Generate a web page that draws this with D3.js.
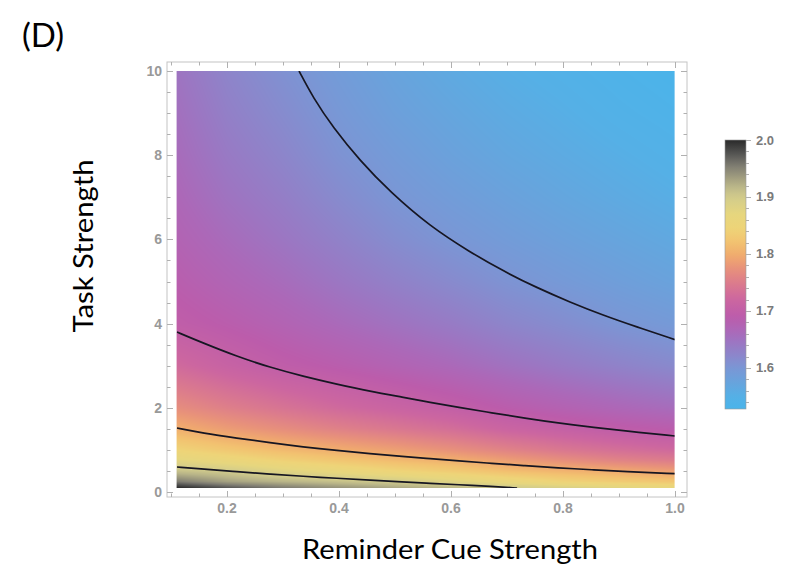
<!DOCTYPE html>
<html>
<head>
<meta charset="utf-8">
<script src="https://cdn.jsdelivr.net/npm/d3@7"></script>
<style>
  html, body { margin: 0; padding: 0; background: #ffffff; }
  svg { display: block; }
</style>
</head>
<body>
<svg id="chart" width="799" height="574"></svg>
<script>
// ---------------- data ----------------
const xCols = [0.11, 0.2, 0.3, 0.4, 0.5, 0.6, 0.7, 0.8, 0.9, 1.0];           // Reminder Cue Strength
const yRows = [0.1, 0.25, 0.5, 0.75, 1, 1.5, 2, 3, 4, 5, 6, 7, 8, 9, 10];    // Task Strength
// estimated plotted value, one row per yRows entry, one column per xCols entry
const valueGrid = [
  [2.000, 1.975, 1.955, 1.940, 1.928, 1.918, 1.905, 1.890, 1.877, 1.865],
  [1.955, 1.932, 1.919, 1.909, 1.900, 1.880, 1.860, 1.842, 1.832, 1.824],
  [1.909, 1.900, 1.879, 1.862, 1.845, 1.832, 1.816, 1.806, 1.797, 1.786],
  [1.875, 1.858, 1.840, 1.826, 1.813, 1.803, 1.787, 1.772, 1.759, 1.750],
  [1.844, 1.828, 1.812, 1.800, 1.788, 1.774, 1.758, 1.744, 1.733, 1.724],
  [1.802, 1.785, 1.770, 1.756, 1.744, 1.732, 1.716, 1.705, 1.695, 1.687],
  [1.770, 1.754, 1.739, 1.725, 1.714, 1.702, 1.688, 1.677, 1.667, 1.658],
  [1.726, 1.710, 1.696, 1.686, 1.675, 1.664, 1.651, 1.639, 1.628, 1.618],
  [1.697, 1.687, 1.675, 1.662, 1.650, 1.638, 1.624, 1.613, 1.601, 1.593],
  [1.685, 1.672, 1.659, 1.644, 1.630, 1.617, 1.604, 1.594, 1.585, 1.577],
  [1.675, 1.660, 1.645, 1.629, 1.613, 1.600, 1.590, 1.581, 1.573, 1.565],
  [1.667, 1.649, 1.634, 1.616, 1.600, 1.589, 1.579, 1.570, 1.562, 1.554],
  [1.660, 1.640, 1.624, 1.605, 1.591, 1.579, 1.569, 1.561, 1.553, 1.545],
  [1.654, 1.632, 1.615, 1.597, 1.582, 1.571, 1.561, 1.553, 1.544, 1.537],
  [1.648, 1.625, 1.607, 1.590, 1.575, 1.563, 1.553, 1.545, 1.537, 1.530]
];
// contour lines: [x, y]
const contour16 = [[0.3286,10.0],[0.3536,9.37],[0.3893,8.66],[0.4375,7.87],[0.4911,7.13],[0.5625,6.31],[0.6339,5.70],[0.6929,5.25],[0.7536,4.85],[0.8125,4.51],[0.8714,4.20],[0.9321,3.92],[1.0,3.62]];
const contour17 = [[0.1107,3.80],[0.157,3.54],[0.2179,3.22],[0.2768,2.96],[0.3357,2.75],[0.3964,2.56],[0.4554,2.39],[0.5143,2.25],[0.5625,2.13],[0.6125,2.01],[0.6732,1.88],[0.7321,1.755],[0.7911,1.64],[0.8518,1.54],[0.9107,1.45],[1.0,1.33]];
const contour18 = [[0.1107,1.52],[0.157,1.40],[0.2179,1.28],[0.2768,1.17],[0.3357,1.07],[0.3964,0.985],[0.4554,0.91],[0.5143,0.846],[0.5625,0.79],[0.6125,0.74],[0.6732,0.68],[0.7321,0.625],[0.7911,0.575],[0.8518,0.527],[0.9107,0.487],[1.0,0.435]];
const contour19 = [[0.1107,0.594],[0.157,0.544],[0.2179,0.482],[0.2768,0.425],[0.3357,0.373],[0.3964,0.325],[0.4554,0.283],[0.5143,0.24],[0.5625,0.207],[0.6125,0.173],[0.6732,0.133],[0.718,0.095]];
const contours = [contour16, contour17, contour18, contour19];

const xTickLabels = [0.2, 0.4, 0.6, 0.8, 1.0];
const yTickLabels = [0, 2, 4, 6, 8, 10];
const legendTicks = [1.6, 1.7, 1.8, 1.9, 2.0];
const legendRange = [1.528, 2.0];
// colour map (value -> colour)
const cmapValues = [1.528, 1.55, 1.57, 1.597, 1.62, 1.645, 1.665, 1.69, 1.72, 1.75, 1.775, 1.797, 1.82, 1.845, 1.87, 1.9, 1.92, 1.955, 1.975, 2.0];
const cmapColors = ["#4ab4ea","#55b0e6","#64a6de","#7898d6","#8a88cc","#9c76c2","#ac68b8","#bc5cab","#cc66a0","#dc7c8c","#e8927a","#f0aa6e","#f2c270","#eed478","#e6d67e","#d2cc8c","#b8b488","#7e7c72","#565654","#2a2a2a"];
const plotXRange = [0.11, 1.0];
const plotYRange = [0.1, 10];

// ---------------- drawing ----------------
const svg = d3.select("#chart");
svg.append("rect").attr("width", 799).attr("height", 574).attr("fill", "#fff");

const x = d3.scaleLinear().domain([0.2, 1.0]).range([227, 675]);
const y = d3.scaleLinear().domain([0, 10]).range([492, 71]);
const color = d3.scaleLinear().domain(cmapValues).range(cmapColors).interpolate(d3.interpolateRgb).clamp(true);

const ix0 = x(plotXRange[0]), ix1 = x(plotXRange[1]);
const iy0 = y(plotYRange[1]), iy1 = y(plotYRange[0]);
const W = Math.round(ix1 - ix0), H = Math.round(iy1 - iy0);

// density image
const colIdx = d3.scaleLinear().domain(xCols).range(d3.range(xCols.length)).clamp(true);
const rowIdx = d3.scaleLinear().domain(yRows).range(d3.range(yRows.length)).clamp(true);
function valueAt(xv, yv) {
  const ci = colIdx(xv), ri = rowIdx(yv);
  const c0 = Math.min(Math.floor(ci), xCols.length - 2), r0 = Math.min(Math.floor(ri), yRows.length - 2);
  const fc = ci - c0, fr = ri - r0;
  const a = valueGrid[r0][c0], b = valueGrid[r0][c0 + 1];
  const c = valueGrid[r0 + 1][c0], d = valueGrid[r0 + 1][c0 + 1];
  return (a * (1 - fc) + b * fc) * (1 - fr) + (c * (1 - fc) + d * fc) * fr;
}
const canvas = document.createElement("canvas");
canvas.width = W; canvas.height = H;
const ctx = canvas.getContext("2d");
const img = ctx.createImageData(W, H);
for (let j = 0; j < H; j++) {
  const yv = y.invert(iy0 + j + 0.5);
  for (let i = 0; i < W; i++) {
    const xv = x.invert(ix0 + i + 0.5);
    const c = d3.rgb(color(valueAt(xv, yv)));
    const k = (j * W + i) * 4;
    img.data[k] = c.r; img.data[k + 1] = c.g; img.data[k + 2] = c.b; img.data[k + 3] = 255;
  }
}
ctx.putImageData(img, 0, 0);
svg.append("image")
  .attr("x", ix0).attr("y", iy0).attr("width", W).attr("height", H)
  .attr("preserveAspectRatio", "none")
  .attr("href", canvas.toDataURL());

// contours
svg.append("clipPath").attr("id", "clip").append("rect")
  .attr("x", ix0).attr("y", iy0).attr("width", W).attr("height", H);
const line = d3.line().x(d => x(d[0])).y(d => y(d[1])).curve(d3.curveBasis);
svg.append("g").attr("clip-path", "url(#clip)")
  .selectAll("path").data(contours).join("path")
  .attr("d", line).attr("fill", "none").attr("stroke", "#161622").attr("stroke-width", 1.7);

// frame
const fL = 167, fR = 687, fT = 62, fB = 497;
const tickCol = "#b0b0b0";
svg.append("rect").attr("x", fL).attr("y", fT).attr("width", fR - fL).attr("height", fB - fT)
  .attr("fill", "none").attr("stroke", "#c4c4c4").attr("stroke-width", 1);

const xMinor = d3.range(2, 21).map(i => i * 0.05).filter(v => x(v) > fL && x(v) < fR);
const yMinor = d3.range(0, 21).map(i => i * 0.5);
const isMajorX = v => xTickLabels.some(t => Math.abs(t - v) < 1e-6);
const isMajorY = v => yTickLabels.some(t => Math.abs(t - v) < 1e-6);
const tg = svg.append("g").attr("stroke", tickCol).attr("stroke-width", 1);
xMinor.forEach(v => {
  const L = isMajorX(v) ? 6 : 3.5, px = Math.round(x(v)) + 0.5;
  tg.append("line").attr("x1", px).attr("x2", px).attr("y1", fB).attr("y2", fB - L);
  tg.append("line").attr("x1", px).attr("x2", px).attr("y1", fT).attr("y2", fT + L);
});
yMinor.forEach(v => {
  const L = isMajorY(v) ? 6 : 3.5, py = Math.round(y(v)) + 0.5;
  tg.append("line").attr("x1", fL).attr("x2", fL + L).attr("y1", py).attr("y2", py);
  tg.append("line").attr("x1", fR).attr("x2", fR - L).attr("y1", py).attr("y2", py);
});

const labelStyle = s => s.attr("font-family", "Liberation Sans, Arial, sans-serif")
  .attr("font-size", 14).attr("font-weight", "bold").attr("fill", "#999999");
svg.append("g").selectAll("text").data(xTickLabels).join("text")
  .call(labelStyle)
  .attr("x", d => x(d)).attr("y", 513).attr("text-anchor", "middle")
  .text(d => d3.format(".1f")(d));
svg.append("g").selectAll("text").data(yTickLabels).join("text")
  .call(labelStyle)
  .attr("x", 162).attr("y", d => y(d) + 5).attr("text-anchor", "end")
  .text(d => d);

// legend bar
const lb = d3.scaleLinear().domain(legendRange).range([409, 140]);
const defs = svg.append("defs");
const grad = defs.append("linearGradient").attr("id", "lg").attr("x1", 0).attr("x2", 0).attr("y1", 1).attr("y2", 0);
d3.range(0, 41).forEach(i => {
  const v = legendRange[0] + (legendRange[1] - legendRange[0]) * i / 40;
  grad.append("stop").attr("offset", (i / 40)).attr("stop-color", color(v));
});
svg.append("rect").attr("x", 725).attr("y", 140).attr("width", 21).attr("height", 269)
  .attr("fill", "url(#lg)").attr("stroke", "#9a9a9a").attr("stroke-width", 0.6);
const lgTicks = d3.range(0, 25).map(i => 1.52 + i * 0.02).filter(v => v >= legendRange[0] - 1e-9 && v <= 2.0001);
const lt = svg.append("g").attr("stroke", tickCol).attr("stroke-width", 1);
lgTicks.forEach(v => {
  const major = legendTicks.some(t => Math.abs(t - v) < 1e-6);
  const py = Math.round(lb(v)) + 0.5;
  lt.append("line").attr("x1", 746).attr("x2", 746 + (major ? 5 : 3)).attr("y1", py).attr("y2", py);
});
svg.append("g").selectAll("text").data(legendTicks).join("text")
  .call(labelStyle).attr("fill", "#7a7a7a").attr("font-size", 13)
  .attr("x", 756).attr("y", d => lb(d) + 4.5)
  .text(d => d3.format(".1f")(d));

// titles
const titleFont = "Lato, 'Open Sans', sans-serif";
svg.append("text").attr("x", 22).attr("y", 47).attr("font-family", titleFont).attr("font-size", 33)
  .attr("fill", "#000").text("(D)");
svg.append("text").attr("x", 450).attr("y", 559).attr("text-anchor", "middle")
  .attr("font-family", titleFont).attr("font-size", 26).attr("fill", "#000")
  .attr("textLength", 296).attr("lengthAdjust", "spacingAndGlyphs")
  .text("Reminder Cue Strength");
svg.append("text").attr("transform", "translate(93,246) rotate(-90)").attr("text-anchor", "middle")
  .attr("font-family", titleFont).attr("font-size", 26).attr("fill", "#000")
  .attr("textLength", 173).attr("lengthAdjust", "spacingAndGlyphs")
  .text("Task Strength");
</script>
</body>
</html>
